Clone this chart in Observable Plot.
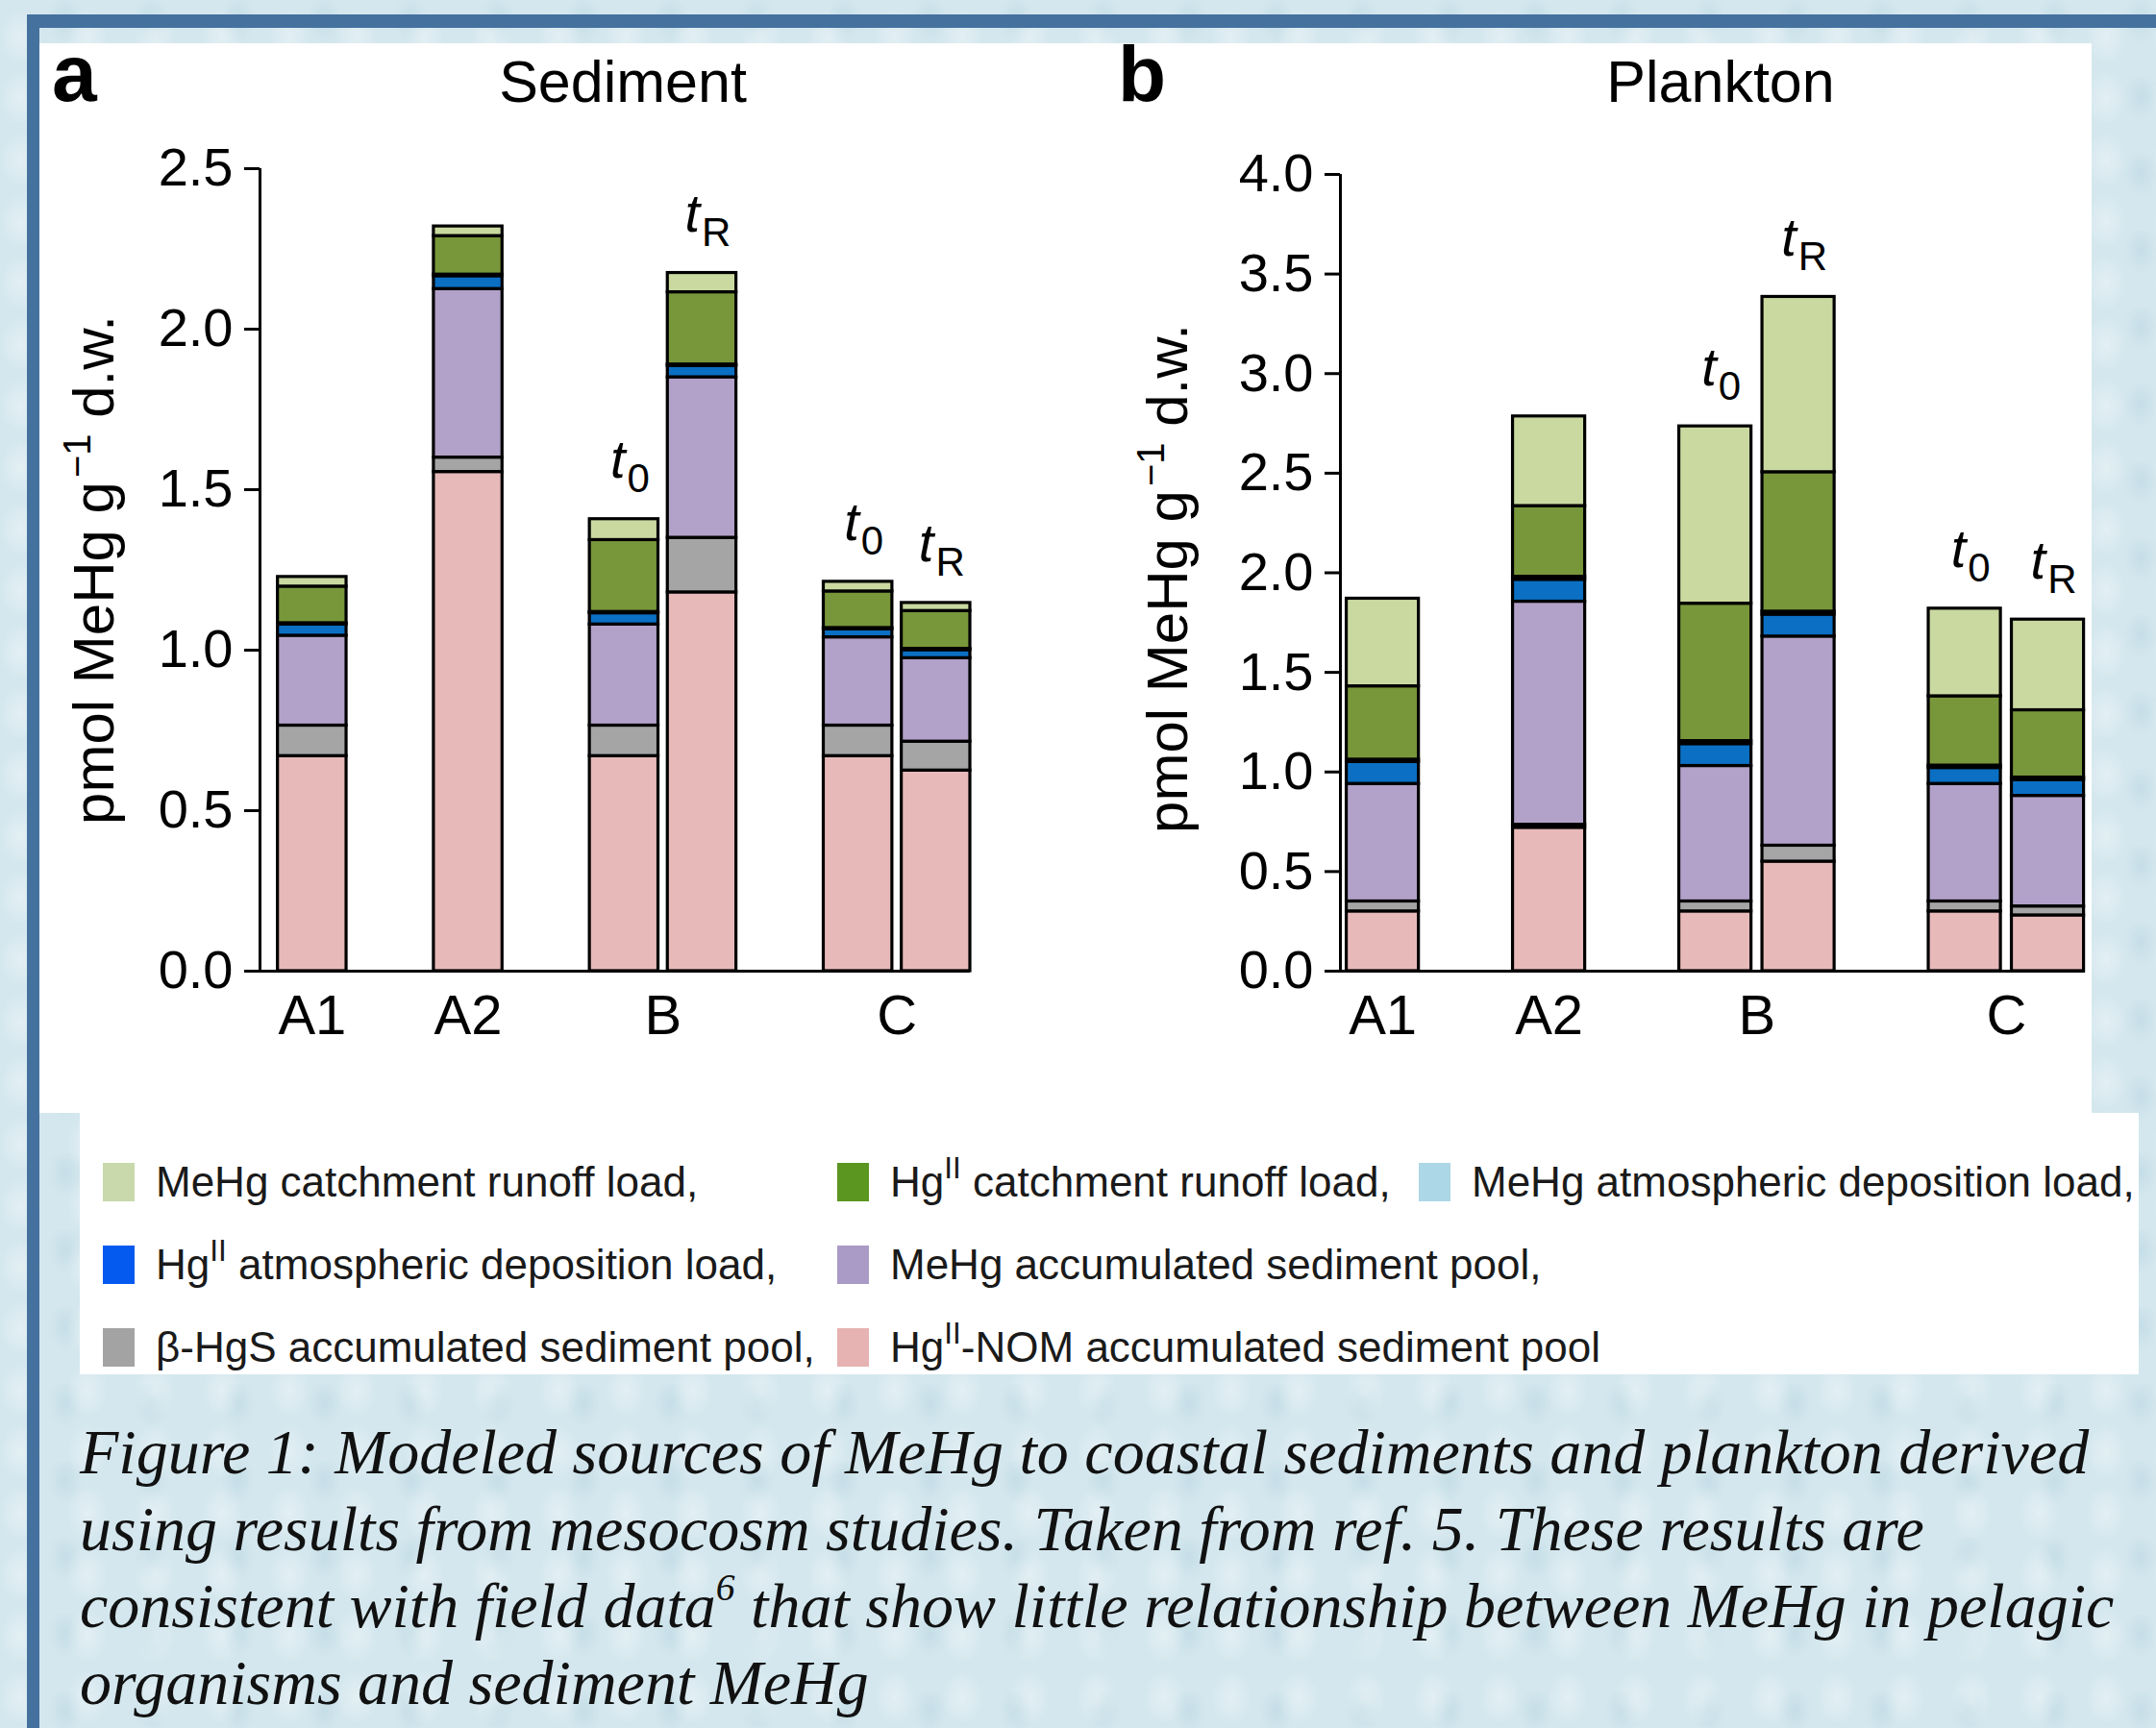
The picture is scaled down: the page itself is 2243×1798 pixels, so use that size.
<!DOCTYPE html>
<html>
<head>
<meta charset="utf-8">
<script src="https://cdn.jsdelivr.net/npm/d3@7"></script>
<script src="https://cdn.jsdelivr.net/npm/@observablehq/plot@0.6"></script>
<style>
  html, body { margin: 0; padding: 0; }
  body {
    width: 2243px; height: 1798px; position: relative; overflow: hidden;
    background-color: #d4e7ee;
    background-image:
      radial-gradient(ellipse 22px 30px at 30% 60%, rgba(255,255,255,0.35) 0, rgba(255,255,255,0) 100%),
      radial-gradient(ellipse 18px 26px at 75% 25%, rgba(170,205,218,0.35) 0, rgba(170,205,218,0) 100%);
    background-size: 70px 64px, 90px 80px;
    font-family: "Liberation Sans", Arial, Helvetica, sans-serif;
    color: #000;
  }
  #frame { position: absolute; left: 28px; top: 15px; width: 2400px; height: 2000px;
    border-top: 14px solid #45719f; border-left: 13px solid #45719f; }
  #chartbox { position: absolute; left: 41px; top: 45px; width: 2135px; height: 1113px; background: #fff; }
  #legendbox { position: absolute; left: 83px; top: 1158px; width: 2142px; height: 272px; background: #fff; }
  .plot { position: absolute; top: 45px; }
  .panel-letter { position: absolute; font-weight: bold; line-height: 1; }
  .panel-title { position: absolute; font-size: 61px; line-height: 1; width: 700px; text-align: center; }
  .lg-item { position: absolute; height: 50px; display: flex; align-items: center; white-space: nowrap; font-size: 44px; color: #1a1a1a; }
  .lg-sw { width: 33px; height: 40px; margin-right: 22px; flex: none; }
  .lg-item sup { font-size: 0.72em; vertical-align: 0.6em; line-height: 0; }
  #caption { position: absolute; left: 83px; top: 1471px; font-family: "Liberation Serif", "Times New Roman", serif;
    font-style: italic; font-size: 66px; line-height: 80px; white-space: nowrap; color: #111; }
  #caption sup { font-size: 0.6em; vertical-align: 0.7em; line-height: 0; }
</style>
</head>
<body>
<div id="frame"></div>
<div id="chartbox"></div>
<div id="legendbox"></div>
<div class="panel-letter" style="left:54px; top:34px; font-size:84px;">a</div>
<div class="panel-title" style="left:298px; top:55px;">Sediment</div>
<div class="panel-letter" style="left:1163px; top:36px; font-size:82px;">b</div>
<div class="panel-title" style="left:1440px; top:55px;">Plankton</div>
<div id="plotA" class="plot" style="left:41px;"></div>
<div id="plotB" class="plot" style="left:1130px;"></div>
<div id="legend"></div>
<div id="caption">Figure 1: Modeled sources of MeHg to coastal sediments and plankton derived<br>using results from mesocosm studies. Taken from ref. 5. These results are<br>consistent with field data<sup>6</sup> that show little relationship between MeHg in pelagic<br>organisms and sediment MeHg</div>

<script>
// ---------- DATA ----------
// stacking order, bottom to top
const components = [
  "HgII-NOM accumulated sediment pool",
  "β-HgS accumulated sediment pool",
  "MeHg accumulated sediment pool",
  "HgII atmospheric deposition load",
  "MeHg atmospheric deposition load",
  "HgII catchment runoff load",
  "MeHg catchment runoff load"
];
const barGroups = ["A1", "A2", "B", "B", "C", "C"];
const barTimes  = [null, null, "0", "R", "0", "R"];

// panel a: Sediment (pmol MeHg g-1 d.w.)
const sedHgNOM      = [0.67, 1.555, 0.67, 1.18, 0.67, 0.625];
const sedBetaHgS    = [0.095, 0.045, 0.095, 0.17, 0.095, 0.09];
const sedMeHgSed    = [0.28, 0.525, 0.315, 0.50, 0.275, 0.26];
const sedHgAtm      = [0.035, 0.04, 0.035, 0.035, 0.025, 0.025];
const sedMeHgAtm    = [0.004, 0.005, 0.004, 0.005, 0.004, 0.004];
const sedHgRunoff   = [0.114, 0.12, 0.224, 0.225, 0.114, 0.118];
const sedMeHgRunoff = [0.03, 0.03, 0.065, 0.06, 0.03, 0.025];

// panel b: Plankton (pmol MeHg g-1 d.w.)
const plkHgNOM      = [0.30, 0.72, 0.30, 0.55, 0.30, 0.28];
const plkBetaHgS    = [0.05, 0.015, 0.05, 0.08, 0.05, 0.045];
const plkMeHgSed    = [0.59, 1.12, 0.68, 1.05, 0.59, 0.555];
const plkHgAtm      = [0.11, 0.11, 0.11, 0.11, 0.08, 0.08];
const plkMeHgAtm    = [0.012, 0.015, 0.015, 0.015, 0.012, 0.012];
const plkHgRunoff   = [0.368, 0.355, 0.69, 0.70, 0.348, 0.338];
const plkMeHgRunoff = [0.44, 0.45, 0.89, 0.88, 0.44, 0.455];

const sedTicks = [0, 0.5, 1.0, 1.5, 2.0, 2.5];
const plkTicks = [0, 0.5, 1.0, 1.5, 2.0, 2.5, 3.0, 3.5, 4.0];
const yLabelText = "pmol MeHg g\u22121 d.w.";

// legend layout rows (indices into components)
const legendRows = [[6, 5, 4], [3, 2], [1, 0]];

// ---------- STYLE ----------
const barColors = ["#e8b9b9", "#a5a5a5", "#b2a1c8", "#0b6fc3", "#a9d4e3", "#78963a", "#c9d9a0"];
const legendColors = ["#e6b2b2", "#a3a3a3", "#a99bc6", "#0459ee", "#acd7e6", "#5a9620", "#c9d9ab"];
const FONT = '"Liberation Sans", Arial, Helvetica, sans-serif';

// ---------- BUILD ----------
// one empty slot between groups
const barSlots = barGroups.map((g, i) => i + new Set(barGroups.slice(0, i + 1)).size - 1);
const groupNames = Array.from(new Set(barGroups));
const groupCenters = groupNames.map(g => d3.mean(barSlots.filter((s, i) => barGroups[i] === g)));
const centerLabel = new Map(groupCenters.map((c, i) => [c, groupNames[i]]));

function stackRows(series) {
  const rows = [];
  barGroups.forEach((g, i) => {
    let y = 0;
    components.forEach((c, k) => {
      const v = series[k][i];
      rows.push({bar: i, pos: barSlots[i], component: c, y1: y, y2: y + v});
      y += v;
    });
  });
  return rows;
}
function labelRows(series) {
  return barGroups.map((g, i) => ({pos: barSlots[i], sub: barTimes[i], total: d3.sum(series, s => s[i])}))
    .filter(d => d.sub !== null);
}

function makePanel(series, opts) {
  const rows = stackRows(series);
  const labs = labelRows(series);
  const hw = opts.halfWidth;
  const svg = Plot.plot({
    width: opts.width, height: opts.height,
    marginLeft: opts.marginLeft, marginRight: opts.marginRight,
    marginTop: opts.marginTop, marginBottom: opts.marginBottom,
    x: {domain: opts.xDomain, axis: null},
    y: {domain: [0, d3.max(opts.ticks)], axis: null},
    color: {domain: components, range: barColors},
    style: {fontFamily: FONT, background: "transparent", color: "#000", overflow: "visible"},
    marks: [
      Plot.rect(rows, {x1: d => d.pos - hw, x2: d => d.pos + hw, y1: "y1", y2: "y2",
        fill: "component", stroke: "#000", strokeWidth: 3.2}),
      Plot.ruleY([0], {stroke: "#000", strokeWidth: 3}),
      Plot.ruleX([opts.xDomain[0]], {y1: 0, y2: d3.max(opts.ticks), stroke: "#000", strokeWidth: 3}),
      Plot.axisY({ticks: opts.ticks, tickFormat: d3.format(".1f"), tickSize: 16, tickPadding: 12,
        fontSize: 56, strokeWidth: 3, label: null}),
      Plot.axisX({ticks: groupCenters, tickFormat: d => centerLabel.get(d), tickSize: 0, tickPadding: 24,
        fontSize: 58, label: null}),
      Plot.text([yLabelText], {frameAnchor: "left", textAnchor: "middle", rotate: -90, dx: opts.labelDx, dy: opts.labelDy,
        text: d => d, fontSize: 60}),
      Plot.text(labs, {x: "pos", y: "total", text: d => "t" + d.sub, fontSize: 56,
        lineAnchor: "bottom", textAnchor: "middle", dx: 6, dy: -43})
    ]
  });
  // typographic details: superscript and subscripts
  d3.select(svg).selectAll("text").each(function () {
    const s = this.textContent;
    const m = /^t([0R])$/.exec(s);
    if (m) {
      this.textContent = "";
      const t = d3.select(this);
      t.append("tspan").attr("font-style", "italic").text("t");
      t.append("tspan").attr("font-size", 42).attr("dy", 15).attr("dx", 2).text(m[1]);
    } else if (s === yLabelText) {
      this.textContent = "";
      const t = d3.select(this);
      t.append("tspan").text("pmol MeHg g");
      t.append("tspan").attr("font-size", 40).attr("dy", -24).attr("dx", 4).text("\u22121");
      t.append("tspan").attr("dy", 24).text(" d.w.");
    }
  });
  return svg;
}

document.getElementById("plotA").append(makePanel(
  [sedHgNOM, sedBetaHgS, sedMeHgSed, sedHgAtm, sedMeHgAtm, sedHgRunoff, sedMeHgRunoff],
  {width: 1080, height: 1075, marginLeft: 229, marginRight: 112, marginTop: 130, marginBottom: 110,
   xDomain: [-0.67, 8.44], halfWidth: 0.44, ticks: sedTicks, labelDx: -172, labelDy: 0}));

document.getElementById("plotB").append(makePanel(
  [plkHgNOM, plkBetaHgS, plkMeHgSed, plkHgAtm, plkMeHgAtm, plkHgRunoff, plkMeHgRunoff],
  {width: 1046, height: 1075, marginLeft: 264, marginRight: 7, marginTop: 136, marginBottom: 110,
   xDomain: [-0.51, 8.45], halfWidth: 0.434, ticks: plkTicks, labelDx: -179, labelDy: 6}));

// ---------- LEGEND ----------
const legendCols = [107, 871, 1476];
const legendRowY = [1205, 1291, 1377];
const legend = document.getElementById("legend");
legendRows.forEach((row, r) => {
  row.forEach((k, c) => {
    const item = document.createElement("div");
    item.className = "lg-item";
    item.style.left = legendCols[c] + "px";
    item.style.top = legendRowY[r] + "px";
    const sw = document.createElement("div");
    sw.className = "lg-sw";
    sw.style.background = legendColors[k];
    item.append(sw);
    const lab = document.createElement("span");
    const isLast = r === legendRows.length - 1 && c === row.length - 1;
    lab.innerHTML = components[k].replace("HgII", "Hg<sup>II</sup>") + (isLast ? "" : ",");
    item.append(lab);
    legend.append(item);
  });
});
</script>
</body>
</html>
